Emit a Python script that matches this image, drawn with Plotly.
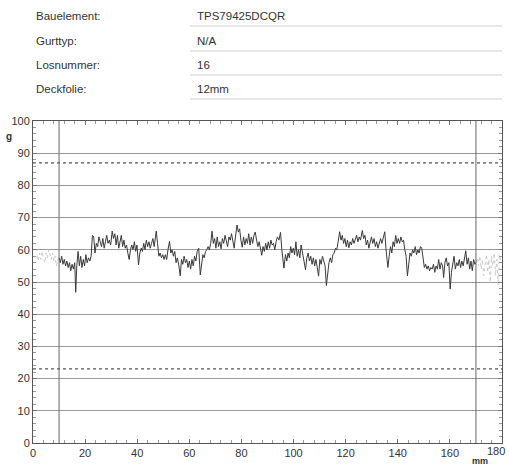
import plotly.graph_objects as go

# ---------------- header info ----------------
header_labels = ["Bauelement:", "Gurttyp:", "Losnummer:", "Deckfolie:"]
header_values = ["TPS79425DCQR", "N/A", "16", "12mm"]

# ---------------- axes ----------------
x_ticks = [0, 20, 40, 60, 80, 100, 120, 140, 160, 180]
y_ticks = [0, 10, 20, 30, 40, 50, 60, 70, 80, 90, 100]
limit_upper = 87
limit_lower = 23
window_start = 10
window_end = 170

# ---------------- measured peel force (mm, g) ----------------
pos_mm = [10.0, 10.5, 11.0, 11.5, 12.0, 12.5, 13.0, 13.5, 14.0, 14.5, 15.0, 15.5, 16.0, 16.4, 16.8,
          17.3, 17.8, 18.3, 18.8, 19.3, 19.8, 20.3, 20.8, 21.3, 21.8, 22.3, 22.8, 23.3, 23.8, 24.3,
          24.8, 25.3, 25.8, 26.3, 26.8, 27.3, 27.8, 28.3, 28.8, 29.3, 29.8, 30.4, 30.9, 31.4, 31.9,
          32.4, 32.9, 33.4, 33.9, 34.4, 34.9, 35.4, 35.9, 36.4, 36.9, 37.4, 37.9, 38.4, 38.9, 39.4,
          39.9, 40.5, 41.0, 41.5, 42.0, 42.5, 43.0, 43.5, 44.0, 44.5, 45.0, 45.5, 46.0, 46.5, 47.0,
          47.3, 47.8, 48.3, 48.8, 49.3, 49.8, 50.3, 50.8, 51.3, 51.8, 52.4, 52.9, 53.4, 53.9, 54.4,
          54.9, 55.4, 56.0, 56.5, 57.0, 57.5, 58.0, 58.5, 59.0, 59.5, 60.0, 60.5, 61.0, 61.5, 62.0,
          62.5, 63.0, 63.6, 64.2, 64.7, 65.2, 65.7, 66.2, 66.7, 67.2, 67.7, 68.2, 68.7, 69.2, 69.7,
          70.2, 70.7, 71.2, 71.7, 72.2, 72.7, 73.2, 73.7, 74.2, 74.7, 75.2, 75.7, 76.2, 76.7, 77.2,
          77.7, 78.3, 78.8, 79.3, 79.8, 80.3, 80.8, 81.3, 81.8, 82.3, 82.8, 83.3, 83.8, 84.3, 84.8,
          85.3, 85.8, 86.3, 86.8, 87.3, 87.8, 88.3, 88.8, 89.3, 89.8, 90.3, 90.8, 91.3, 91.8, 92.3,
          92.8, 93.3, 93.8, 94.4, 95.0, 95.5, 96.3, 96.9, 97.4, 97.9, 98.4, 98.9, 99.4, 99.9, 100.4,
          100.9, 101.4, 101.9, 102.4, 102.9, 103.4, 103.9, 104.6, 105.1, 105.6, 106.1, 106.6, 107.1, 107.6, 108.1,
          108.6, 109.1, 109.6, 110.1, 110.6, 111.1, 111.6, 112.1, 112.6, 113.1, 113.6, 114.1, 114.6, 115.1, 115.6,
          116.1, 116.6, 117.1, 117.7, 118.2, 118.7, 119.2, 119.7, 120.2, 120.7, 121.2, 121.7, 122.2, 122.7, 123.2,
          123.7, 124.2, 124.7, 125.2, 125.7, 126.4, 126.9, 127.4, 127.9, 128.4, 128.9, 129.4, 129.9, 130.4, 130.9,
          131.4, 131.9, 132.4, 132.9, 133.4, 133.9, 134.4, 135.0, 135.5, 136.2, 136.7, 137.2, 137.7, 138.2, 138.7,
          139.2, 139.7, 140.2, 140.7, 141.2, 141.7, 142.2, 142.7, 143.2, 143.7, 144.2, 144.7, 145.2, 145.7, 146.2,
          146.7, 147.2, 147.7, 148.2, 148.7, 149.2, 149.7, 150.2, 150.7, 151.2, 151.7, 152.2, 152.7, 153.2, 153.7,
          154.2, 154.7, 155.2, 155.7, 156.2, 156.7, 157.2, 157.6, 158.1, 158.6, 159.1, 159.6, 160.1, 160.6, 161.1,
          161.6, 162.1, 162.6, 163.1, 163.6, 164.1, 164.6, 165.1, 165.6, 166.1, 166.6, 167.1, 167.6, 168.1, 168.6,
          169.1, 169.6, 170.0]
force_g = [57.5, 56, 58, 55.5, 57, 55, 56.5, 54.5, 56, 53.5, 55.5, 54, 56, 46.8, 55,
           59.5, 55, 58, 54.5, 57, 55, 58.5, 56, 57.5, 56.5, 58, 64.5, 64, 59, 62,
           61, 64, 62.5, 61, 63.5, 60.5, 62.5, 64.5, 62, 63, 61.5, 65.8, 63.5, 65, 61.5,
           64.5, 60.5, 62.5, 64.5, 61, 63, 60.5, 61.5, 59, 57, 60, 61.5, 60, 62.5, 59.5,
           61.5, 55.3, 59, 60.5, 59.5, 62, 60, 63, 61, 62.5, 60.5, 62, 63.5, 61, 64.5,
           65.8, 62, 58, 59, 57.5, 58.5, 57, 58.5, 57, 60, 62.6, 59, 60, 58, 59.5,
           56, 57.5, 55, 51.9, 57, 55.5, 58, 56, 57, 54.5, 56.5, 54, 57, 55, 58,
           56.5, 59.5, 60.5, 52.2, 56, 58.5, 57.5, 59.5, 60, 61, 60, 62, 65.8, 62, 63.5,
           60.5, 64, 61, 62.5, 60.3, 63.5, 62, 64.5, 62.5, 61, 64, 63, 65, 62, 60.5,
           64, 67.7, 65.5, 66.5, 63, 60.8, 64, 61.5, 63.5, 62, 65, 61.5, 64, 62, 64.5,
           65.5, 63, 61, 62.5, 60.5, 58.3, 61, 59.5, 62, 60, 62.5, 60.5, 63, 61.5, 62,
           60, 62.5, 64, 63, 65.4, 60, 54.3, 58.5, 56.5, 59, 57.5, 61, 59, 60.5, 58.5,
           62.5, 58, 60, 57.5, 61.5, 59, 57, 53.8, 57.5, 59, 56.5, 58, 55.5, 57.5, 55,
           57, 54.5, 51.8, 57, 55.5, 58, 56, 55, 48.9, 52.5, 56, 57.5, 56, 58.5, 59,
           60.5, 60, 62.5, 65.6, 63, 64.5, 62, 63.5, 61, 63, 60.6, 62.5, 61.5, 63.5, 62,
           63, 64.5, 62.5, 64, 63, 66, 63.5, 64.5, 61.5, 63, 60.5, 62.5, 64, 62, 63.5,
           61, 62.5, 60.5, 62, 63.5, 62, 64, 65.6, 60, 54.5, 58, 61, 59, 62.5, 61,
           64.5, 62, 63.5, 62, 64, 62.5, 63, 60, 58, 51.9, 56, 59, 58, 60, 59,
           61, 58.5, 60, 59, 61, 60.5, 58, 54.5, 55.5, 54, 55, 53.5, 54.5, 54, 55.5,
           53, 55, 54, 57, 54, 56, 55, 51.4, 56, 57.5, 55, 56, 47.8, 53, 55.5,
           58, 54, 56, 55, 57, 54.5, 56.5, 55, 58, 59.7, 55.5, 57.5, 54, 56.5, 53.5,
           57, 55.5, 56]

# faint (outside evaluation window) traces
pre_mm = [1.5, 2.0, 2.5, 3.0, 3.5, 4.0, 4.5, 5.0, 5.5, 6.0, 6.5, 7.0, 7.5, 8.0, 8.5, 9.0, 9.5, 10.0]
pre_g = [58, 56.5, 59, 57, 59.5, 58, 56, 59, 57.5, 60, 58.5, 57, 59, 56.5, 58, 55, 57, 57.5]
post_mm = [170.0, 170.5, 171.0, 171.5, 172.0, 172.5, 173.0, 173.5, 174.0, 174.5, 175.0, 175.5,
           176.0, 176.5, 177.0, 177.5, 178.0, 178.5, 179.0, 179.5]
post_g = [56, 57.5, 55, 58, 54, 57, 52, 56.5, 58.5, 53, 57, 50, 58, 55, 59, 52, 57, 49, 58.5, 56]

FONT = "Liberation Sans, Arial, sans-serif"

fig = go.Figure()
fig.add_trace(go.Scatter(x=pre_mm, y=pre_g, mode="lines",
                         line=dict(color="#c8c8c8", width=1, dash="dot"), showlegend=False))
fig.add_trace(go.Scatter(x=post_mm, y=post_g, mode="lines",
                         line=dict(color="#c8c8c8", width=1, dash="dot"), showlegend=False))
fig.add_trace(go.Scatter(x=pos_mm, y=force_g, mode="lines",
                         line=dict(color="#3a3a3a", width=1), showlegend=False))

# limit lines
for yv in (limit_upper, limit_lower):
    fig.add_shape(type="line", xref="x", yref="y", x0=0, x1=180, y0=yv, y1=yv,
                  line=dict(color="#555555", width=1.3, dash="dot"))
# evaluation window
for xv in (window_start, window_end):
    fig.add_shape(type="line", xref="x", yref="y", x0=xv, x1=xv, y0=0, y1=100,
                  line=dict(color="#666666", width=1))

# header
row_y = [16, 41, 65, 89]
line_y = [26, 51, 75, 99]
plot_top, plot_bottom, plot_left, plot_right = 121, 443, 33, 502
ph = plot_bottom - plot_top
pw = plot_right - plot_left
for lab, val, ry, ly in zip(header_labels, header_values, row_y, line_y):
    yp = (plot_bottom - ry) / ph
    fig.add_annotation(text=lab, xref="paper", yref="paper", x=(34 - plot_left) / pw, y=yp,
                       xanchor="left", yanchor="middle", showarrow=False,
                       font=dict(family=FONT, size=11.5, color="#333333"))
    fig.add_annotation(text=val, xref="paper", yref="paper", x=(195 - plot_left) / pw, y=yp,
                       xanchor="left", yanchor="middle", showarrow=False,
                       font=dict(family=FONT, size=11.5, color="#333333"))
    fig.add_shape(type="line", xref="paper", yref="paper",
                  x0=(190 - plot_left) / pw, x1=1.0,
                  y0=(plot_bottom - ly) / ph, y1=(plot_bottom - ly) / ph,
                  line=dict(color="#cfcfcf", width=1))

fig.add_annotation(text="<b>g</b>", xref="paper", yref="paper", x=(9 - plot_left) / pw,
                   y=(plot_bottom - 136) / ph, showarrow=False, xanchor="center", yanchor="middle",
                   font=dict(family=FONT, size=10, color="#333333"))
fig.add_annotation(text="<b>mm</b>", xref="paper", yref="paper", x=(480 - plot_left) / pw,
                   y=(plot_bottom - 461) / ph, showarrow=False, xanchor="center", yanchor="middle",
                   font=dict(family=FONT, size=9, color="#333333"))
# last x tick label, placed so it stays inside the page (as in the reference)
fig.add_annotation(text=str(x_ticks[-1]), xref="paper", yref="paper", x=(507 - plot_left) / pw,
                   y=(plot_bottom - 451) / ph, showarrow=False, xanchor="right", yanchor="middle",
                   font=dict(family=FONT, size=11, color="#333333"))

fig.update_xaxes(range=[0, 180], tickvals=x_ticks,
                 ticktext=[str(v) for v in x_ticks[:-1]] + [""],
                 automargin=False,
                 showgrid=False, zeroline=False, showline=True, linecolor="#555555", linewidth=1,
                 mirror="ticks", ticks="inside", ticklen=4, tickcolor="#777777",
                 minor=dict(dtick=4, tick0=0, ticks="inside", ticklen=3, tickcolor="#999999", showgrid=False),
                 tickfont=dict(family=FONT, size=11, color="#333333"))
fig.update_yaxes(range=[0, 100], tickvals=y_ticks, ticktext=[str(v) for v in y_ticks],
                 automargin=False, ticklabeloverflow="allow",
                 showgrid=True, gridcolor="#9a9a9a", gridwidth=1, zeroline=False,
                 showline=True, linecolor="#555555", linewidth=1,
                 mirror="ticks", ticks="inside", ticklen=4, tickcolor="#777777",
                 minor=dict(dtick=2, tick0=0, ticks="inside", ticklen=3, tickcolor="#999999", showgrid=False),
                 tickfont=dict(family=FONT, size=11, color="#333333"))

fig.update_layout(width=509, height=468, plot_bgcolor="white", paper_bgcolor="white",
                  margin=dict(l=plot_left, r=509 - plot_right, t=plot_top, b=468 - plot_bottom),
                  showlegend=False)

fig.write_html("out.html", config={"displayModeBar": False},
               post_script="document.body.style.margin='0';document.body.style.overflow='hidden';")
